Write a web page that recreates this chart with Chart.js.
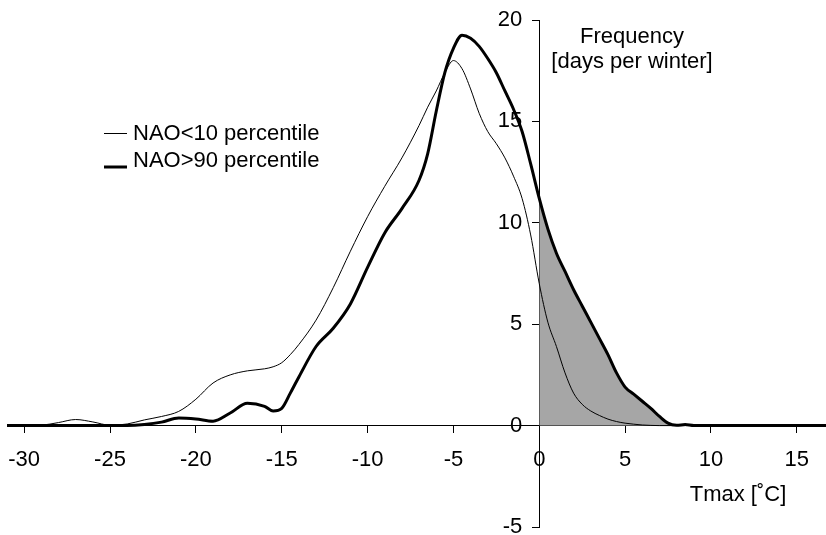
<!DOCTYPE html>
<html>
<head>
<meta charset="utf-8">
<script src="https://cdn.jsdelivr.net/npm/chart.js@4.4.1/dist/chart.umd.min.js"></script>
<style>
  html, body { margin: 0; padding: 0; background: #fff; }
  canvas { display: block; }
</style>
</head>
<body>
<canvas id="tmaxChart" width="826" height="535"></canvas>
<script>
// Tmax 값 (°C)
const tmax = [
  -31, -30, -29, -28, -27, -26, -25, -24, -23, -22, -21, -20, -19, -18, -17, -16,
  -15.5, -15, -14.5, -14,
  -13, -12, -11, -10, -9, -8, -7,
  -6.5, -6, -5.5, -5, -4.5, -4, -3.5, -3, -2.5, -2, -1.5, -1, -0.5, 0,
  0.5, 1, 1.5, 2, 2.5, 3, 3.5, 4, 4.5, 5, 5.5, 6, 6.5, 7, 7.5, 8, 8.5,
  9, 10, 11, 12, 13, 14, 15, 16, 17
];
// NAO<10 percentile (가는 선)
const naoLow = [
  0, 0, 0.02, 0.15, 0.3, 0.18, 0.02, 0.08, 0.28, 0.45, 0.7, 1.3, 2.1, 2.5, 2.7, 2.8,
  2.9, 3.1, 3.5, 4.0,
  5.2, 6.8, 8.6, 10.3, 11.8, 13.2, 14.8,
  15.7, 16.5, 17.4, 18.0, 17.6, 16.6, 15.4, 14.5, 13.9, 13.2, 12.3, 11.2, 9.4, 7.0,
  5.1, 3.9, 2.6, 1.6, 1.05, 0.72, 0.5, 0.32, 0.2, 0.12, 0.07, 0.03, 0.01, 0, 0, 0, 0,
  0, 0, 0, 0, 0, 0, 0, 0, 0
];
// NAO>90 percentile (굵은 선)
const naoHigh = [
  0, 0, 0, 0, 0, 0, 0, 0, 0.05, 0.17, 0.38, 0.33, 0.22, 0.62, 1.1, 0.95,
  0.72, 0.85, 1.6, 2.4,
  3.9, 4.8, 6.0, 7.8, 9.5, 10.7, 12.1,
  13.4, 15.5, 17.4, 18.6, 19.25, 19.1, 18.7, 18.1, 17.4, 16.5, 15.6, 14.5, 12.9, 11.2,
  9.7, 8.5, 7.6, 6.7, 5.9, 5.1, 4.3, 3.5, 2.6, 1.9, 1.55, 1.2, 0.85, 0.45, 0.12, 0.02, 0.05,
  0, 0, 0, 0, 0, 0, 0, 0, 0
];
const xTicks = [-30, -25, -20, -15, -10, -5, 0, 5, 10, 15];
const yTicks = [-5, 0, 5, 10, 15, 20];
const seriesLabels = ['NAO<10 percentile', 'NAO>90 percentile'];
const yTitle = ['Frequency', '[days per winter]'];
const xTitle = 'Tmax [˚C]';

const FONT = '"Liberation Sans", Arial, Helvetica, sans-serif';
const FONT_SIZE = 22;

function points(ys) {
  return tmax.map((x, i) => ({ x: x, y: ys[i] }));
}

// 0°C 이상 구간 (회색 음영)
const warmPart = points(naoHigh).filter(p => p.x >= 0 && p.x <= 9);

// y축 눈금 글자, 범례, 축 제목
const textOverlay = {
  id: 'textOverlay',
  afterDraw(chart) {
    const ctx = chart.ctx;
    const xs = chart.scales.x;
    const ys = chart.scales.y;
    ctx.save();
    ctx.fillStyle = '#000';
    ctx.strokeStyle = '#000';
    ctx.font = FONT_SIZE + 'px ' + FONT;
    ctx.textBaseline = 'middle';

    // y축 눈금 글자 (축 왼쪽)
    ctx.textAlign = 'right';
    const axisX = xs.getPixelForValue(0);
    yTicks.forEach(v => {
      ctx.fillText(String(v), axisX - 17, ys.getPixelForValue(v));
    });

    // 범례
    ctx.textAlign = 'left';
    ctx.lineWidth = 1;
    ctx.beginPath();
    ctx.moveTo(104, 133.5);
    ctx.lineTo(127, 133.5);
    ctx.stroke();
    ctx.fillText(seriesLabels[0], 133, 134);
    ctx.lineWidth = 3;
    ctx.beginPath();
    ctx.moveTo(104, 167);
    ctx.lineTo(127, 167);
    ctx.stroke();
    ctx.fillText(seriesLabels[1], 133, 161);

    // 축 제목
    ctx.textAlign = 'center';
    ctx.fillText(yTitle[0], 632, 37);
    ctx.fillText(yTitle[1], 632, 62);
    ctx.fillText(xTitle, 738, 495);
    ctx.restore();
  }
};

function noPadding(scale) {
  scale.paddingLeft = 0;
  scale.paddingRight = 0;
  scale.paddingTop = 0;
  scale.paddingBottom = 0;
}

new Chart(document.getElementById('tmaxChart'), {
  type: 'line',
  data: {
    datasets: [
      {
        label: seriesLabels[0],
        data: points(naoLow),
        borderColor: '#000',
        borderWidth: 1,
        pointRadius: 0,
        cubicInterpolationMode: 'monotone',
        fill: false
      },
      {
        label: seriesLabels[1],
        data: points(naoHigh),
        borderColor: '#000',
        borderWidth: 3,
        pointRadius: 0,
        cubicInterpolationMode: 'monotone',
        fill: false
      },
      {
        label: 'shade',
        data: warmPart,
        borderWidth: 0,
        borderColor: 'rgba(0,0,0,0)',
        backgroundColor: '#a6a6a6',
        pointRadius: 0,
        cubicInterpolationMode: 'monotone',
        fill: 'origin'
      }
    ]
  },
  options: {
    responsive: false,
    animation: false,
    layout: { padding: { left: 7, right: 0, top: 20, bottom: 8 } },
    plugins: {
      legend: { display: false },
      tooltip: { enabled: false }
    },
    scales: {
      x: {
        type: 'linear',
        min: -31,
        max: 16.7,
        position: { y: 0 },
        afterBuildTicks: scale => { scale.ticks = xTicks.map(v => ({ value: v })); },
        afterFit: noPadding,
        grid: { drawOnChartArea: false, drawTicks: true, tickLength: 7, color: '#000', lineWidth: 1 },
        border: { display: true, color: '#000', width: 1 },
        ticks: { color: '#000', padding: 14, maxRotation: 0, font: { family: FONT, size: FONT_SIZE } }
      },
      y: {
        type: 'linear',
        min: -5,
        max: 20,
        position: { x: 0 },
        afterBuildTicks: scale => { scale.ticks = yTicks.map(v => ({ value: v })); },
        afterFit: noPadding,
        grid: { drawOnChartArea: false, drawTicks: true, tickLength: 7, color: '#000', lineWidth: 1 },
        border: { display: true, color: '#000', width: 1 },
        ticks: { display: false }
      }
    }
  },
  plugins: [textOverlay]
});
</script>
</body>
</html>
